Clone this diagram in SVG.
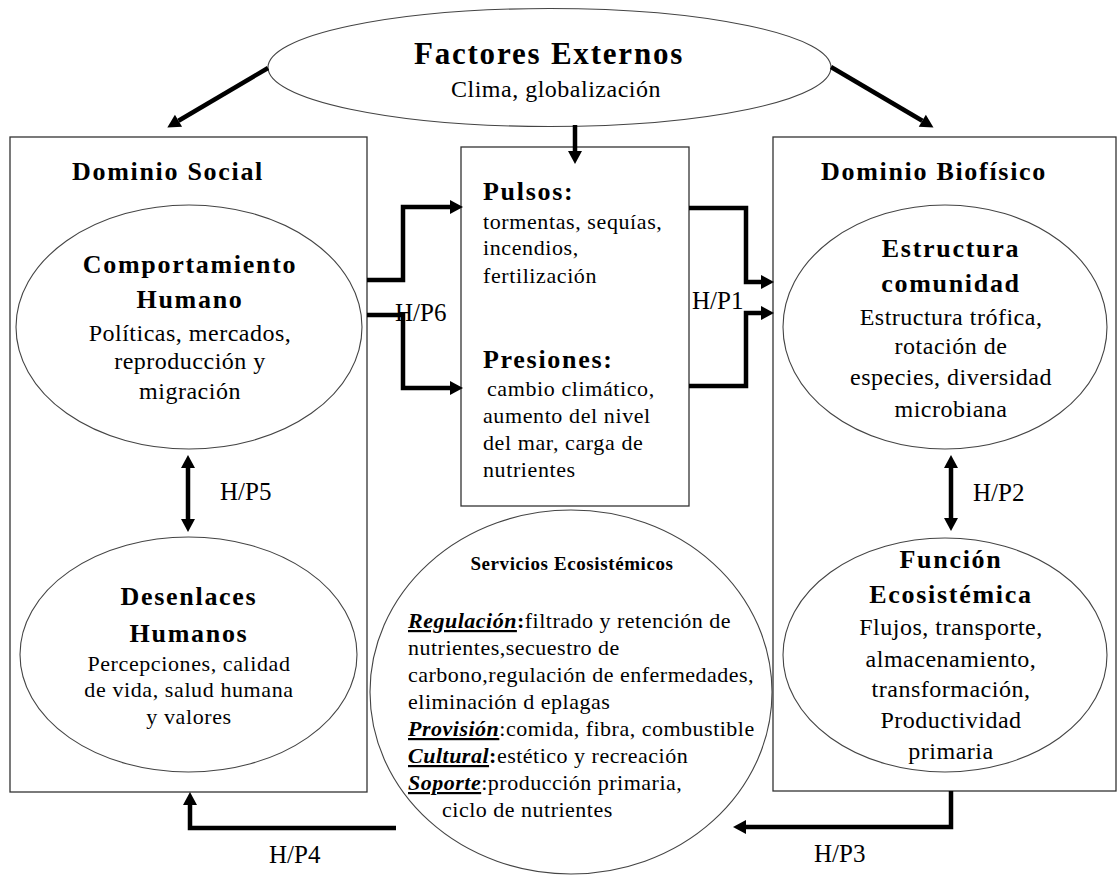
<svg xmlns="http://www.w3.org/2000/svg" width="1118" height="876" viewBox="0 0 1118 876">
<style>
text{font-family:"Liberation Serif","Times New Roman",serif;fill:#000}
.t{font-weight:bold;font-size:26px;letter-spacing:1.7px;text-anchor:middle}
.b{font-size:24px;letter-spacing:0.5px;text-anchor:middle}
.s{font-size:22px;letter-spacing:0.6px}
.sm{font-size:22px;letter-spacing:0.6px;text-anchor:middle}
.lb{font-size:25px}
.box{fill:#fff;stroke:#333;stroke-width:1.3}
.ell{fill:#fff;stroke:#444;stroke-width:1.1}
.c{fill:none;stroke:#000;stroke-width:4.5}
.k{font-weight:bold;font-style:italic;text-decoration:underline}
</style>
<defs>
<marker id="ah" markerUnits="userSpaceOnUse" markerWidth="16" markerHeight="16" refX="0" refY="7" orient="auto-start-reverse" overflow="visible">
<path d="M0,0 L13,7 L0,14 Z" fill="#000"/>
</marker>
</defs>
<g id="dominio-social">
<rect class="box" x="10" y="137" width="357" height="655"/>
<text class="t" x="168" y="180">Dominio Social</text>
</g>
<g id="dominio-biofisico">
<rect class="box" x="773" y="137" width="343" height="654"/>
<text class="t" x="934" y="180">Dominio Biofísico</text>
</g>
<g id="pulsos-presiones">
<rect class="box" x="461" y="147" width="228" height="359"/>
<text class="t" x="483" y="200" style="text-anchor:start">Pulsos:</text>
<text class="s" x="483" y="229">tormentas, sequías,</text>
<text class="s" x="483" y="255">incendios,</text>
<text class="s" x="483" y="283">fertilización</text>
<text class="t" x="483" y="368" style="text-anchor:start">Presiones:</text>
<text class="s" x="487" y="396">cambio climático,</text>
<text class="s" x="483" y="423">aumento del nivel</text>
<text class="s" x="483" y="450">del mar, carga de</text>
<text class="s" x="483" y="477">nutrientes</text>
</g>
<g id="factores-externos">
<ellipse class="ell" cx="549.5" cy="67.5" rx="281.5" ry="59"/>
<text x="549" y="64" style="font-weight:bold;font-size:31px;letter-spacing:1.8px;text-anchor:middle">Factores Externos</text>
<text class="b" x="556" y="97">Clima, globalización</text>
</g>
<g id="comportamiento-humano">
<ellipse class="ell" cx="189" cy="327" rx="173" ry="122"/>
<text class="t" x="190" y="273">Comportamiento</text>
<text class="t" x="190" y="308">Humano</text>
<text class="b" x="190" y="341">Políticas, mercados,</text>
<text class="b" x="190" y="369">reproducción y</text>
<text class="b" x="190" y="399">migración</text>
</g>
<g id="desenlaces-humanos">
<ellipse class="ell" cx="188.5" cy="654.5" rx="168.5" ry="117.5"/>
<text class="t" x="189" y="605">Desenlaces</text>
<text class="t" x="189" y="642">Humanos</text>
<text class="sm" x="189" y="671">Percepciones, calidad</text>
<text class="sm" x="189" y="697">de vida, salud humana</text>
<text class="sm" x="189" y="724">y valores</text>
</g>
<g id="estructura-comunidad">
<ellipse class="ell" cx="945" cy="327" rx="162" ry="122"/>
<text class="t" x="951" y="257">Estructura</text>
<text class="t" x="951" y="292">comunidad</text>
<text class="b" x="951" y="325">Estructura trófica,</text>
<text class="b" x="951" y="354">rotación de</text>
<text class="b" x="951" y="385">especies, diversidad</text>
<text class="b" x="951" y="417">microbiana</text>
</g>
<g id="funcion-ecosistemica">
<ellipse class="ell" cx="945" cy="655" rx="162" ry="117"/>
<text class="t" x="951" y="568">Función</text>
<text class="t" x="951" y="603">Ecosistémica</text>
<text class="b" x="951" y="635">Flujos, transporte,</text>
<text class="b" x="951" y="667">almacenamiento,</text>
<text class="b" x="951" y="697">transformación,</text>
<text class="b" x="951" y="728">Productividad</text>
<text class="b" x="951" y="759">primaria</text>
</g>
<g id="servicios-ecosistemicos">
<ellipse class="ell" cx="571" cy="692" rx="201" ry="182"/>
<text x="572" y="570" style="font-weight:bold;font-size:19px;letter-spacing:0.6px;text-anchor:middle">Servicios Ecosistémicos</text>
<text class="s" x="408" y="628" style="letter-spacing:0.5px"><tspan class="k">Regulación</tspan><tspan font-weight="bold">:</tspan>filtrado  y retención de</text>
<text class="s" x="408" y="655" style="letter-spacing:0.5px">nutrientes,secuestro de</text>
<text class="s" x="408" y="682" style="letter-spacing:0.5px">carbono,regulación de enfermedades,</text>
<text class="s" x="408" y="709" style="letter-spacing:0.5px">eliminación d eplagas</text>
<text class="s" x="408" y="736" style="letter-spacing:0.5px"><tspan class="k">Provisión</tspan>:comida, fibra, combustible</text>
<text class="s" x="408" y="763" style="letter-spacing:0.5px"><tspan class="k">Cultural</tspan><tspan font-weight="bold">:</tspan>estético y recreación</text>
<text class="s" x="408" y="790" style="letter-spacing:0.5px"><tspan class="k">Soporte</tspan>:producción primaria,</text>
<text class="s" x="442" y="817" style="letter-spacing:0.5px">ciclo de nutrientes</text>
</g>
<g id="connectors">
<line class="c" x1="268" y1="68" x2="178.5" y2="120.8" marker-end="url(#ah)"/>
<line class="c" x1="831" y1="67" x2="922.3" y2="120.8" marker-end="url(#ah)"/>
<line class="c" x1="575" y1="125" x2="575" y2="151" marker-end="url(#ah)"/>
<path class="c" d="M367,280 H403 V207 H450" marker-end="url(#ah)"/>
<path class="c" d="M367,315 H403 V388 H450" marker-end="url(#ah)"/>
<path class="c" d="M689,208 H746 V282 H761" marker-end="url(#ah)"/>
<path class="c" d="M689,386 H746 V313 H761" marker-end="url(#ah)"/>
<line class="c" x1="188" y1="468" x2="188" y2="519" marker-start="url(#ah)" marker-end="url(#ah)"/>
<line class="c" x1="951" y1="468" x2="951" y2="518" marker-start="url(#ah)" marker-end="url(#ah)"/>
<path class="c" d="M951,791 V827 H746" marker-end="url(#ah)"/>
<path class="c" d="M396,828 H190 V805" marker-end="url(#ah)"/>
<text class="lb" x="220" y="500">H/P5</text>
<text class="lb" x="395" y="321">H/P6</text>
<text class="lb" x="692" y="309">H/P1</text>
<text class="lb" x="973" y="501">H/P2</text>
<text class="lb" x="814" y="862">H/P3</text>
<text class="lb" x="269" y="863">H/P4</text>
</g>
</svg>
